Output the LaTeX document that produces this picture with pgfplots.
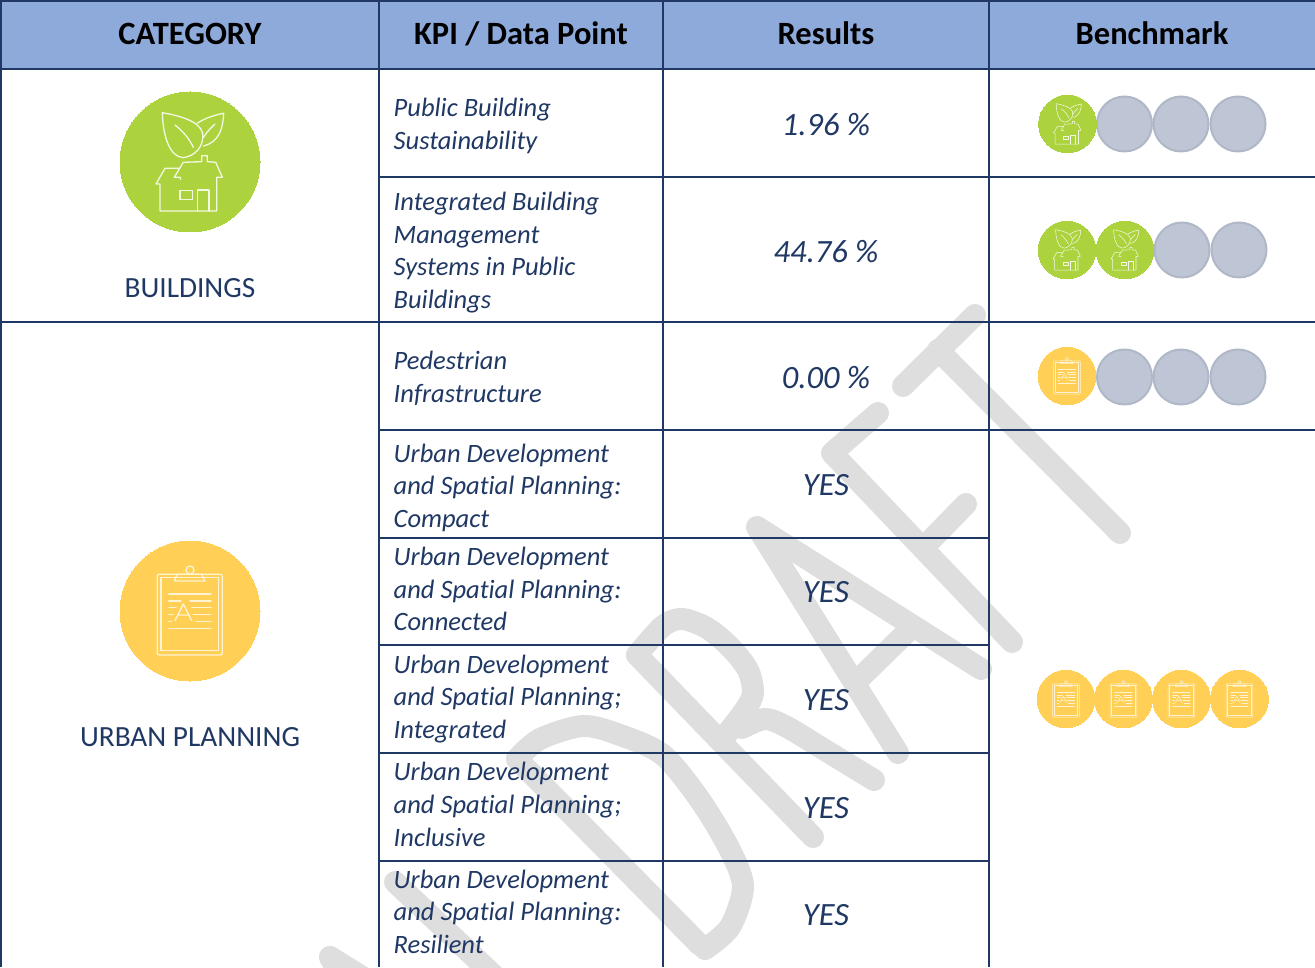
\documentclass[border=0pt]{standalone}
\usepackage{fontspec}
\setmainfont{Carlito}[Ligatures=NoCommon]
\usepackage{pgfplots}
\pgfplotsset{compat=1.18}
\definecolor{navy}{HTML}{1F3864}
\definecolor{hdr}{HTML}{8EAADB}
\definecolor{wm}{HTML}{DEDEDE}
\definecolor{grn}{HTML}{ACD23E}
\definecolor{ylw}{HTML}{FFD055}
\definecolor{gryf}{HTML}{BEC5D5}
\definecolor{gryd}{HTML}{B0B8C8}
\pgfdeclareplotmark{bldg}{%
 \pgfmathsetlengthmacro\uu{\pgfplotmarksize/70}%
 \pgfmathsetlengthmacro\lw{\pgfplotmarksize/70*1.3}%
 \begin{scope}[x=\uu,y=\uu,draw=white!85!grn,line width=\lw,line join=round,line cap=round,fill=none]
 \draw (-27.7,49.3) .. controls (-8,46) and (10,40) .. (12.7,28.7) .. controls (14,15) and (5,6) .. (-6.7,4.3) .. controls (-20,5) and (-27,25) .. cycle;
 \draw (-15,37) .. controls (-6,30) and (0,22) .. (3.3,14.7);
 \draw (7.3,38.7) .. controls (15,44) and (25,47) .. (33.7,48.7) .. controls (33,35) and (30,20) .. (13.3,16);
 \draw (13.3,24.3) .. controls (18,32) and (22,35) .. (25,38);
 \draw (-9.3,-17.3) -- (-10,-15.3) -- (-15.7,-15.3) -- (-6.7,-0.3) -- (11.7,0.3) -- (11.7,6.3) -- (17.3,6.3) -- (17.3,0.3) -- (25.7,-0.3) -- (32.3,-15.3) -- (26.7,-15.3) -- (26.7,-49) -- (-30,-49) -- (-30,-22) -- (-34,-22) -- (-25,-6.3) -- (-10,-6.3);
 \draw (-10,-28.7) rectangle (2.3,-37.3);
 \draw (7.3,-49) -- (7.3,-28) -- (19,-28) -- (19,-49);
 \end{scope}}
\pgfdeclareplotmark{clipb}{%
 \pgfmathsetlengthmacro\uu{\pgfplotmarksize/70}%
 \pgfmathsetlengthmacro\lw{\pgfplotmarksize/70*1.3}%
 \begin{scope}[x=\uu,y=\uu,draw=white!75!ylw,line width=\lw,line join=round,line cap=round,fill=none]
 \draw[rounded corners=2*\uu] (-32.7,36.7) rectangle (32.3,-44);
 \draw (-29,33.3) rectangle (28.3,-39.7);
 \draw (-15.7,30) -- (-12.7,36.7) -- (11.7,36.7) -- (15,30) -- cycle;
 \draw (0,41) circle (4);
 \draw (-21.3,17) -- (21,17);
 \draw (-21.3,10) -- (-9,10) (0,10) -- (21,10);
 \draw (-21.3,3.3) -- (-14,3.3) (1.7,3.3) -- (21,3.3);
 \draw (-21.3,-3.7) -- (-16.7,-3.7) (3.3,-3.7) -- (21,-3.7);
 \draw (-21.3,-10.3) -- (-18.3,-10.3) (6,-10.3) -- (21,-10.3);
 \draw (-21.3,-17.7) -- (21,-17.7);
 \draw (-15,-9.7) -- (-6.7,7) -- (1.7,-9.7) (-12.3,-4) -- (-1,-4);
 \end{scope}}
\pgfplotsset{
 grid line/.style={navy,line width=2.6bp,line cap=butt},
 water/.style={wm,line width=22bp,line cap=round,line join=round},
 dot/.style 2 args={only marks,mark=*,mark size=#2,mark options={fill=#1,draw=#1,line width=0pt}},
}
\newcommand{\bodyf}{\fontsize{26.5bp}{30bp}\selectfont\itshape\color{navy}}
\newcommand{\resf}{\fontsize{32.5bp}{34bp}\selectfont\itshape\color{navy}}
\newcommand{\hdrf}{\fontsize{32.5bp}{34bp}\selectfont\bfseries\color{black}}
\newcommand{\catf}{\fontsize{29.3bp}{30bp}\selectfont\color{navy}}
\newcommand{\kpi}[2]{\node[anchor=base west,inner sep=0pt,font=\bodyf] at (393.5,#1) {#2};}
\newcommand{\res}[2]{\node[anchor=base,inner sep=0pt,font=\resf] at (826,#1) {#2};}
\begin{document}
\begin{tikzpicture}[x=1bp,y=1bp]
\useasboundingbox (0,0) rectangle (1315,967);
\begin{axis}[at={(0,0)},anchor=south west,width=1315bp,height=967bp,scale only axis,
 xmin=0,xmax=1315,ymin=0,ymax=967,y dir=reverse,hide axis,clip=true]
% watermark
\addplot[water] coordinates {(975,315)(903,386)};
\addplot[water] coordinates {(938,350)(1120,533)};
\addplot[water] coordinates {(878,413)(832,453)(1012,642)};
\addplot[water] coordinates {(966,504)(925,546)};
\addplot[water] coordinates {(981,669)(757,527)(898,753)};
\addplot[water] coordinates {(907,632)(860,678)};
\addplot[water] coordinates {(637,655)(813,837)};
\addplot[water,smooth,tension=0.5] coordinates {(637,655)(663,626)(682,619)(707,628)(730,647)(748,670)(753,693)(745,710)(722,740)};
\addplot[water,smooth,tension=0.5] coordinates {(742,728)(765,719)(787,727)(820,747)(874,780)};
\addplot[water] coordinates {(517,759)(700,945)};
\addplot[water,smooth,tension=0.5] coordinates {(517,759)(540,739)(583,726)(620,735)(663,755)(700,800)(730,850)(743,887)(730,927)(705,949)};
\addplot[water] coordinates {(395,882)(505,986)};
\addplot[water] coordinates {(330,957)(375,985)};
\addplot[water] coordinates {(330,957)(345,985)};
% header
\addplot[fill=hdr,draw=none] coordinates {(0,0)(1315,0)(1315,69)(0,69)} -- cycle;
% grid
\addplot[grid line] coordinates {(0,1)(1315,1)};
\addplot[grid line] coordinates {(0,69)(1315,69)};
\addplot[grid line] coordinates {(379,177)(1315,177)};
\addplot[grid line] coordinates {(0,322)(1315,322)};
\addplot[grid line] coordinates {(379,430)(1315,430)};
\addplot[grid line] coordinates {(379,538)(989,538)};
\addplot[grid line] coordinates {(379,645)(989,645)};
\addplot[grid line] coordinates {(379,753)(989,753)};
\addplot[grid line] coordinates {(379,861)(989,861)};
\addplot[grid line] coordinates {(1,0)(1,967)};
\addplot[grid line] coordinates {(379,0)(379,967)};
\addplot[grid line] coordinates {(663,0)(663,967)};
\addplot[grid line] coordinates {(989,0)(989,967)};
% large icons
\addplot[dot={grn}{70bp}] coordinates {(190,162)};
\addplot[only marks,mark=bldg,mark size=70bp] coordinates {(190,162)};
\addplot[dot={ylw}{70bp}] coordinates {(190,611)};
\addplot[only marks,mark=clipb,mark size=70bp] coordinates {(190,611)};
% benchmark: gray
\addplot[only marks,mark=*,mark size=27.5bp,mark options={fill=gryf,draw=gryd,line width=2bp}] coordinates {(1124.5,124)(1181,124)(1238,124)(1182,250)(1239,250)(1124.5,377)(1181,377)(1238,377)};
% benchmark: green
\addplot[dot={grn}{28.8bp}] coordinates {(1067.5,124)(1067,250)(1125,250)};
\addplot[only marks,mark=bldg,mark size=28.8bp] coordinates {(1067.5,124)(1067,250)(1125,250)};
% benchmark: yellow
\addplot[dot={ylw}{28.8bp}] coordinates {(1067,376)(1066,699)(1123.5,699)(1181.5,699)(1239.5,699)};
\addplot[only marks,mark=clipb,mark size=28.8bp] coordinates {(1067,376)(1066,699)(1123.5,699)(1181.5,699)(1239.5,699)};
% header text
\node[anchor=base,inner sep=0pt,font=\hdrf] at (190,45) {CATEGORY};
\node[anchor=base,inner sep=0pt,font=\hdrf] at (521,45) {KPI / Data Point};
\node[anchor=base,inner sep=0pt,font=\hdrf] at (826,45) {Results};
\node[anchor=base,inner sep=0pt,font=\hdrf] at (1152,45) {Benchmark};
\node[anchor=base,inner sep=0pt,font=\catf] at (190,298) {BUILDINGS};
\node[anchor=base,inner sep=0pt,font=\catf] at (190,746) {URBAN PLANNING};
% KPI text
\kpi{117}{Public Building}
\kpi{150}{Sustainability}
\kpi{211}{Integrated Building}
\kpi{244}{Management}
\kpi{276}{Systems in Public}
\kpi{309}{Buildings}
\kpi{370}{Pedestrian}
\kpi{403}{Infrastructure}
\kpi{462}{Urban Development}
\kpi{494}{and Spatial Planning:}
\kpi{527}{Compact}
\kpi{565}{Urban Development}
\kpi{598}{and Spatial Planning:}
\kpi{630}{Connected}
\kpi{673}{Urban Development}
\kpi{705}{and Spatial Planning;}
\kpi{738}{Integrated}
\kpi{780}{Urban Development}
\kpi{813}{and Spatial Planning;}
\kpi{846}{Inclusive}
\kpi{888}{Urban Development}
\kpi{920}{and Spatial Planning:}
\kpi{953}{Resilient}
% results
\res{135.5}{1.96 \%}
\res{262.5}{44.76 \%}
\res{388.5}{0.00 \%}
\res{495.5}{YES}
\res{602.5}{YES}
\res{710.5}{YES}
\res{818.5}{YES}
\res{925.5}{YES}
\end{axis}
\end{tikzpicture}
\end{document}
